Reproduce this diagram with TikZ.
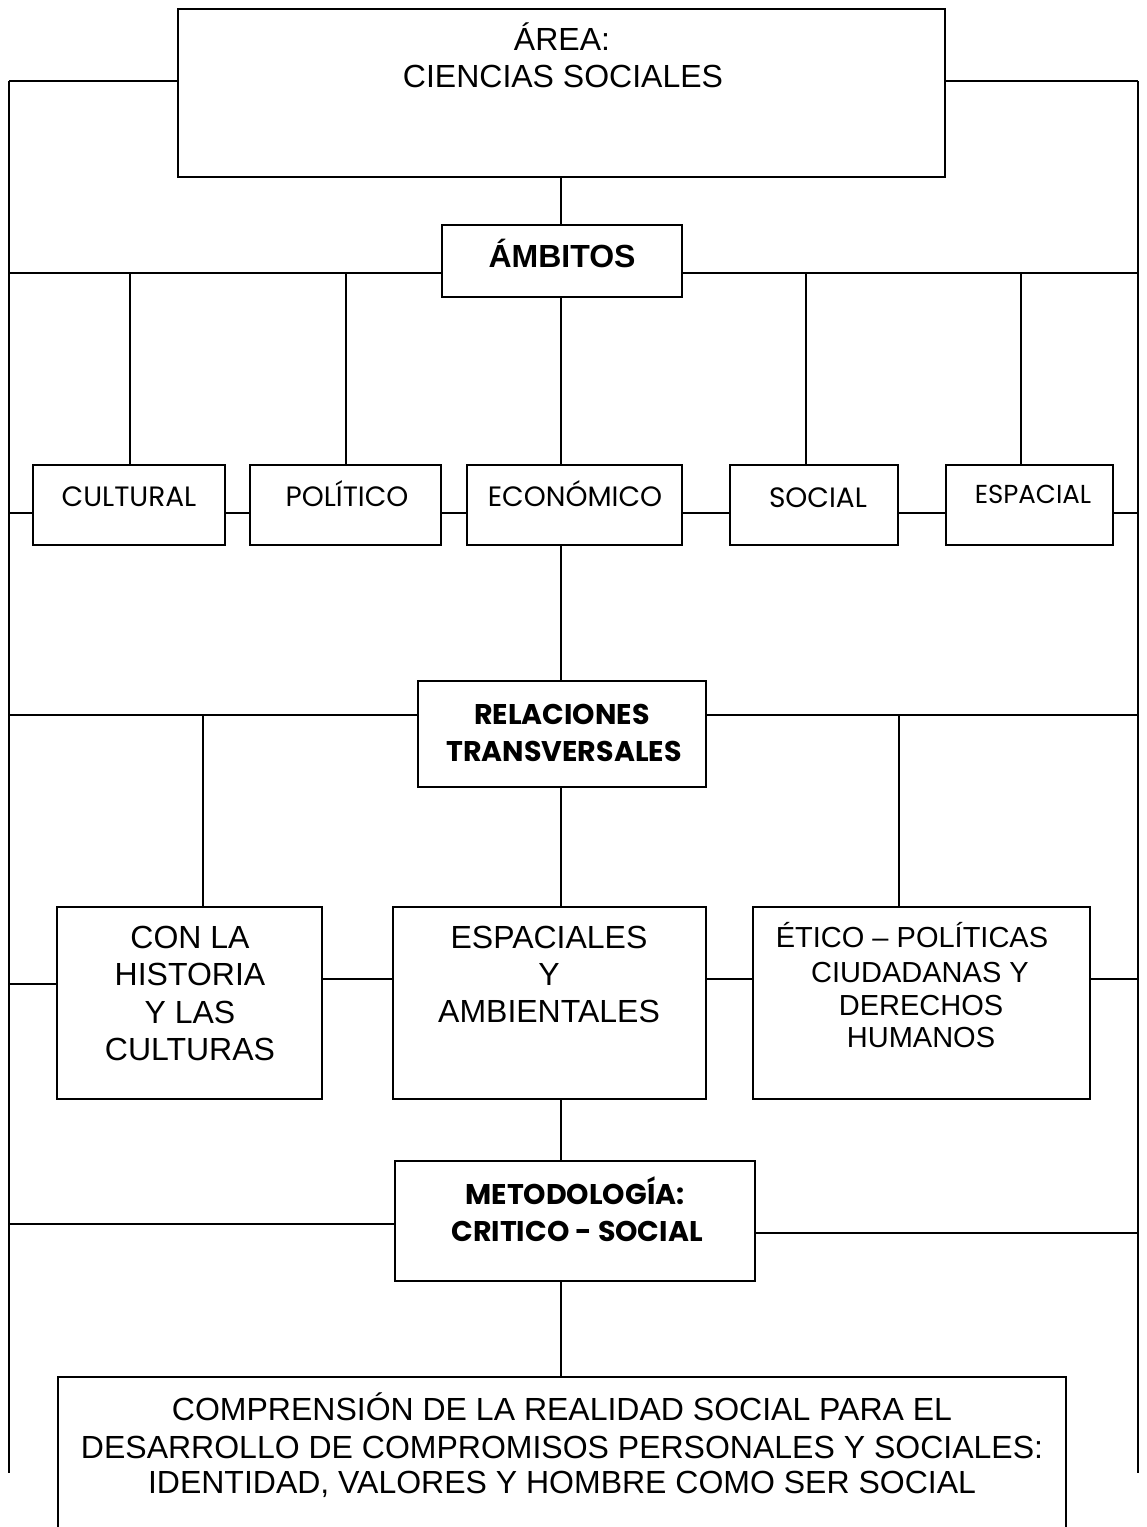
\documentclass[tikz,border=0pt]{standalone}
\usepackage{fontspec}
\setmainfont{Liberation Sans}
\newfontfamily\comic{Poppins}
\begin{document}
\begin{tikzpicture}[x=1pt,y=-1pt,
  boxst/.style={draw,line width=2pt,rectangle,inner sep=0pt,outer sep=0pt,anchor=north west},
  lnst/.style={line width=2pt},
  txtA/.style={anchor=base,inner sep=0pt,font=\fontsize{32}{37}\selectfont},
  txtB/.style={anchor=base,inner sep=0pt,font=\bfseries\fontsize{32}{37}\selectfont},
  txtS/.style={anchor=base,inner sep=0pt,font=\fontsize{29}{33}\selectfont},
  comA/.style={anchor=base,inner sep=0pt,font=\comic\fontsize{28}{32}\selectfont},
  comS/.style={anchor=base,inner sep=0pt,font=\comic\fontsize{26}{30}\selectfont},
  comB/.style={anchor=base,inner sep=0pt,font=\comic\bfseries\fontsize{28.5}{32}\selectfont}]
\clip (0,0) rectangle (1147,1527);
\useasboundingbox (0,0) rectangle (1147,1527);
\newcommand\bx[5]{\node[boxst,minimum width={#4pt-#2pt},minimum height={#5pt-#3pt}] (#1) at (#2,#3) {};}
% boxes
\bx{top}{178}{9}{945}{177}
\bx{amb}{442}{225}{682}{297}
\bx{cult}{33}{465}{225}{545}
\bx{pol}{250}{465}{441}{545}
\bx{econ}{467}{465}{682}{545}
\bx{soc}{730}{465}{898}{545}
\bx{esp}{946}{465}{1113}{545}
\bx{rel}{418}{681}{706}{787}
\bx{hist}{57}{907}{322}{1099}
\bx{amb2}{393}{907}{706}{1099}
\bx{etic}{753}{907}{1090}{1099}
\bx{met}{395}{1161}{755}{1281}
\bx{bot}{58}{1377}{1066}{1560}
% texts
\node[txtA] (t1) at (562,50) {ÁREA:};
\node[txtA] (t2) at (563,87) {CIENCIAS SOCIALES};
\node[txtB] (t3) at (562,267) {ÁMBITOS};
\node[comA] (c1) at (129,506) {CULTURAL};
\node[comA] (c2) at (347,506) {POLÍTICO};
\node[comA] (c3) at (575,506) {ECONÓMICO};
\node[comA] (c4) at (818,507) {SOCIAL};
\node[comS] (c5) at (1033,503) {ESPACIAL};
\node[comB] (r1) at (562,724) {RELACIONES};
\node[comB] (r2) at (564,761) {TRANSVERSALES};
\node[comB] (m1) at (575,1204) {METODOLOGÍA:};
\node[comB] (m2) at (577,1241) {CRITICO - SOCIAL};
\node[txtA] (h1) at (190,948) {CON LA};
\node[txtA] (h2) at (190,985) {HISTORIA};
\node[txtA] (h3) at (190,1023) {Y LAS};
\node[txtA] (h4) at (190,1060) {CULTURAS};
\node[txtA] (a1) at (549,948) {ESPACIALES};
\node[txtA] (a2) at (549,985) {Y};
\node[txtA] (a3) at (549,1022) {AMBIENTALES};
\node[txtS] (e1) at (912,947) {ÉTICO – POLÍTICAS};
\node[txtS] (e2) at (920,982) {CIUDADANAS Y};
\node[txtS] (e3) at (921,1015) {DERECHOS};
\node[txtS] (e4) at (921,1047) {HUMANOS};
\node[txtA] (b1) at (562,1420) {COMPRENSIÓN DE LA REALIDAD SOCIAL PARA EL};
\node[txtA] (b2) at (562,1458) {DESARROLLO DE COMPROMISOS PERSONALES Y SOCIALES:};
\node[txtA] (b3) at (562,1493) {IDENTIDAD, VALORES Y HOMBRE COMO SER SOCIAL};
% frame coordinates
\coordinate (FLt) at (9,81);   \coordinate (FRt) at (1138,81);
\coordinate (FLb) at (9,1473); \coordinate (FRb) at (1138,1473);
\coordinate (H2) at (9,273);   \coordinate (H2r) at (1138,273);
\coordinate (H3) at (9,513);   \coordinate (H3r) at (1138,513);
\coordinate (H4) at (9,715);   \coordinate (H4r) at (1138,715);
\coordinate (H5) at (9,984);   \coordinate (H5r) at (1138,979);
\coordinate (H6) at (9,1224);  \coordinate (H6r) at (1138,1233);
\coordinate (d1) at (130,273); \coordinate (d2) at (346,273);
\coordinate (d3) at (806,273); \coordinate (d4) at (1021,273);
\coordinate (d5) at (203,715); \coordinate (d6) at (899,715);
\coordinate (sp) at (561,0);
% frame
\draw[lnst] (FLt) -- (FLb);
\draw[lnst] (FRt) -- (FRb);
\draw[lnst] (FLt) -- (FLt -| top.west);
\draw[lnst] (top.east |- FRt) -- (FRt);
% spine
\draw[lnst] (sp |- top.south) -- (sp |- amb.north);
\draw[lnst] (sp |- amb.south) -- (sp |- econ.north);
\draw[lnst] (sp |- econ.south) -- (sp |- rel.north);
\draw[lnst] (sp |- rel.south) -- (sp |- amb2.north);
\draw[lnst] (sp |- amb2.south) -- (sp |- met.north);
\draw[lnst] (sp |- met.south) -- (sp |- bot.north);
% ambitos level
\draw[lnst] (H2) -- (H2 -| amb.west);
\draw[lnst] (amb.east |- H2r) -- (H2r);
\draw[lnst] (d1) -- (d1 |- cult.north);
\draw[lnst] (d2) -- (d2 |- pol.north);
\draw[lnst] (d3) -- (d3 |- soc.north);
\draw[lnst] (d4) -- (d4 |- esp.north);
% row 1
\draw[lnst] (H3) -- (H3 -| cult.west);
\draw[lnst] (cult.east |- H3) -- (pol.west |- H3);
\draw[lnst] (pol.east |- H3) -- (econ.west |- H3);
\draw[lnst] (econ.east |- H3) -- (soc.west |- H3);
\draw[lnst] (soc.east |- H3) -- (esp.west |- H3);
\draw[lnst] (esp.east |- H3r) -- (H3r);
% relaciones level
\draw[lnst] (H4) -- (H4 -| rel.west);
\draw[lnst] (rel.east |- H4r) -- (H4r);
\draw[lnst] (d5) -- (d5 |- hist.north);
\draw[lnst] (d6) -- (d6 |- etic.north);
% row 2
\draw[lnst] (H5) -- (H5 -| hist.west);
\draw[lnst] (hist.east |- H5r) -- (amb2.west |- H5r);
\draw[lnst] (amb2.east |- H5r) -- (etic.west |- H5r);
\draw[lnst] (etic.east |- H5r) -- (H5r);
% metodologia level
\draw[lnst] (H6) -- (H6 -| met.west);
\draw[lnst] (met.east |- H6r) -- (H6r);
\end{tikzpicture}
\end{document}
